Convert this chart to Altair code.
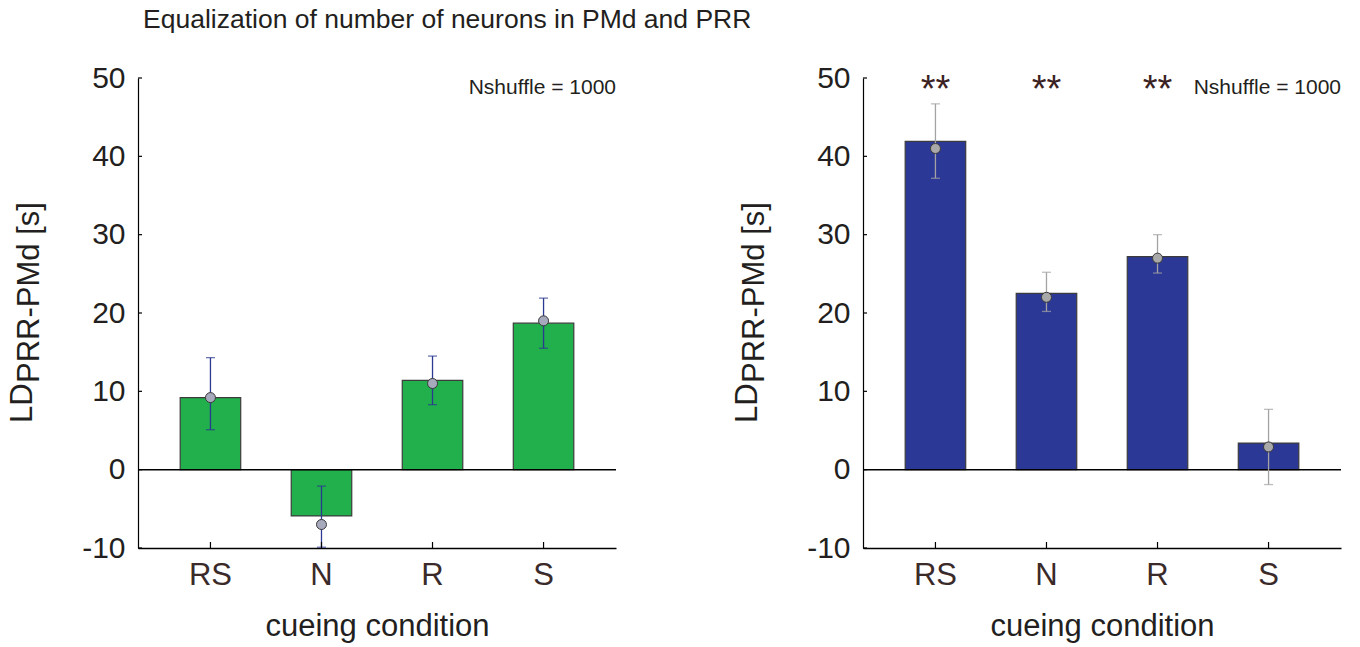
import altair as alt
import pandas as pd

# ---- data ----
CONDITIONS = ["RS", "N", "R", "S"]
Y_TICKS = [-10, 0, 10, 20, 30, 40, 50]

LEFT_BAR = [9.2, -5.9, 11.4, 18.7]
LEFT_PT = [9.2, -7.0, 11.0, 19.0]
LEFT_LO = [5.1, -9.9, 8.3, 15.5]
LEFT_HI = [14.3, -2.1, 14.5, 21.9]
LEFT_SIG = ["", "", "", ""]

RIGHT_BAR = [41.9, 22.5, 27.2, 3.4]
RIGHT_PT = [41.0, 22.0, 27.0, 2.9]
RIGHT_LO = [37.2, 20.2, 25.1, -1.9]
RIGHT_HI = [46.7, 25.2, 30.0, 7.7]
RIGHT_SIG = ["**", "**", "**", ""]

TITLE = "Equalization of  number of neurons in PMd and PRR"
NOTE = "Nshuffle = 1000"
X_TITLE = "cueing condition"
Y_TITLE_MAIN = "LD"
Y_TITLE_SUB = "PRR-PMd [s]"

FONT = "Liberation Sans"
W, H = 478, 470


def panel(bar, pt, lo, hi, sig, fill, err_color, pt_fill):
    df = pd.DataFrame({"cond": CONDITIONS, "bar": bar, "pt": pt,
                       "lo": lo, "hi": hi, "sig": sig})
    base = alt.Chart(df)
    xscale = alt.Scale(domain=CONDITIONS, paddingInner=0.455, paddingOuter=0.38)
    yscale = alt.Scale(domain=[-10, 50], nice=False, zero=False)
    xaxis = alt.Axis(title=X_TITLE, labelAngle=0, ticks=False,
                     labelFontSize=31, labelColor="#3a2a2a",
                     labelPadding=12, titleFontSize=31,
                     titleFontWeight="normal", titleColor="#231f20",
                     titlePadding=21, domainColor="black", domainWidth=1.5)
    yaxis = alt.Axis(values=Y_TICKS, title=None, ticks=False,
                     labelExpr="'' + datum.value",
                     labelFontSize=30, labelColor="#231f20",
                     labelPadding=13, domainColor="black", domainWidth=1.2)

    def X():
        return alt.X("cond:N", sort=CONDITIONS, scale=xscale, axis=xaxis)

    def Y(field):
        return alt.Y(field, scale=yscale, axis=yaxis)

    bars = base.mark_bar(color=fill, stroke="#3c3c3c", strokeWidth=1.2).encode(
        x=X(), y=Y("bar:Q"))
    zero = base.mark_rule(color="black", strokeWidth=1.5).encode(
        y=Y("z:Q")
    ).transform_calculate(z="0").transform_filter("datum.cond == 'RS'")
    err = base.mark_rule(color=err_color, strokeWidth=1.3).encode(
        x=X(), y=Y("lo:Q"), y2="hi:Q")
    cap_lo = base.mark_tick(color=err_color, size=9, thickness=1.3).encode(
        x=X(), y=Y("lo:Q"))
    cap_hi = base.mark_tick(color=err_color, size=9, thickness=1.3).encode(
        x=X(), y=Y("hi:Q"))
    pts = base.mark_point(filled=True, fill=pt_fill, stroke="#3a3a3a",
                          strokeWidth=1, size=100, opacity=1).encode(
        x=X(), y=Y("pt:Q"))
    stars = base.mark_text(fontSize=38, font=FONT, color="#3a2222",
                           baseline="alphabetic").encode(
        x=X(), y=alt.value(23.5), text="sig:N")
    xticks = base.mark_rule(color="black", strokeWidth=1.2).encode(
        x=X(), y=alt.value(H), y2=alt.value(H - 6))

    tick_df = pd.DataFrame({"v": Y_TICKS})
    yticks = alt.Chart(tick_df).mark_rule(color="black", strokeWidth=1.2).encode(
        y=Y("v:Q"), x=alt.value(0), x2=alt.value(4))

    one = pd.DataFrame({"note": [NOTE], "main": [Y_TITLE_MAIN], "sub": [Y_TITLE_SUB]})
    note = alt.Chart(one).mark_text(align="right", baseline="alphabetic",
                                    fontSize=21, font=FONT, color="#231f20").encode(
        x=alt.value(W), y=alt.value(16), text="note:N")
    ymain = alt.Chart(one).mark_text(angle=270, align="left", baseline="alphabetic",
                                     fontSize=31, font=FONT, color="#231f20").encode(
        x=alt.value(-106), y=alt.value(345), text="main:N")
    ysub = alt.Chart(one).mark_text(angle=270, align="left", baseline="alphabetic",
                                    fontSize=31, font=FONT, color="#231f20").encode(
        x=alt.value(-99), y=alt.value(305), text="sub:N")

    return alt.layer(bars, zero, err, cap_lo, cap_hi, pts, stars, xticks,
                     yticks, note, ymain, ysub).properties(width=W, height=H)


left = panel(LEFT_BAR, LEFT_PT, LEFT_LO, LEFT_HI, LEFT_SIG,
             "#21b04b", "#2b3990", "#a7a9bc")
right = panel(RIGHT_BAR, RIGHT_PT, RIGHT_LO, RIGHT_HI, RIGHT_SIG,
              "#2c3895", "#a3a3a3", "#a9a9a9")

chart = alt.hconcat(left, right, spacing=115).properties(
    title=alt.TitleParams(TITLE, anchor="start", fontSize=26.5, font=FONT,
                          fontWeight="normal", color="#231f20", dx=136, offset=30),
    padding={"left": 7, "top": 6, "right": 5, "bottom": 5},
).configure_view(stroke=None).configure_axis(
    grid=False, labelFont=FONT, titleFont=FONT
)

chart.save("out.html", embed_options={"renderer": "svg", "actions": False})
